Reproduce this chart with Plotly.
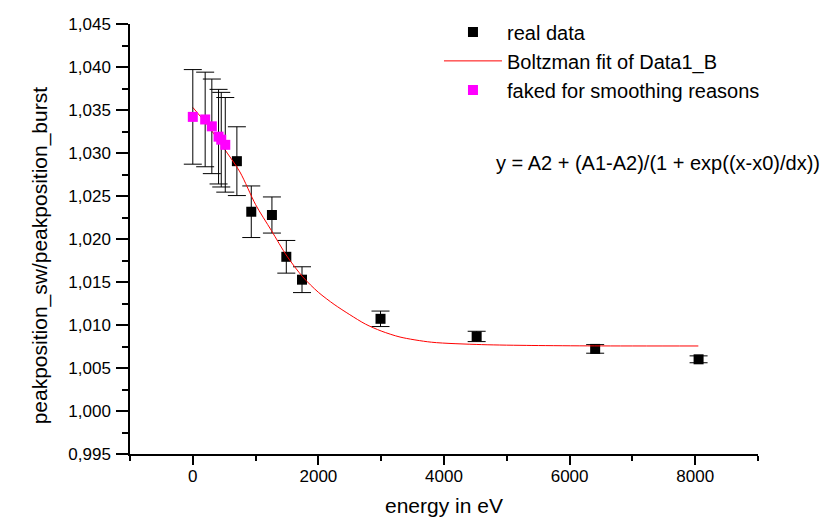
import plotly.graph_objects as go

# ---- data ----
real_energy = [702, 931, 1260, 1489, 1739, 2989, 4520, 6407, 8054]
real_value = [1.02905, 1.02317, 1.02279, 1.01793, 1.01527, 1.01072, 1.00867, 1.00722, 1.00601]
real_error = [0.0040, 0.0030, 0.0021, 0.0019, 0.0015, 0.0009, 0.0006, 0.0005, 0.0004]

fake_energy = [0, 197, 303, 410, 453, 517]
fake_value = [1.0342, 1.0339, 1.0331, 1.0319, 1.03155, 1.03095]
fake_error = [0.0055, 0.0055, 0.0055, 0.0055, 0.0055, 0.0055]

fit_energy = [0, 250, 500, 750, 1000, 1250, 1500, 1750, 2000, 2250, 2500,
              2750, 3000, 3300, 3800, 4600, 5400, 6400, 8050]
fit_value = [1.0353, 1.0331, 1.0305, 1.0278, 1.0240, 1.0210, 1.0180, 1.0156,
             1.0138, 1.0124, 1.0112, 1.0101, 1.0093, 1.00860, 1.00800,
             1.00772, 1.00762, 1.00757, 1.00756]

x_tickvals = [0, 2000, 4000, 6000, 8000]
x_ticktext = ["0", "2000", "4000", "6000", "8000"]
y_tickvals = [0.995, 1.000, 1.005, 1.010, 1.015, 1.020, 1.025, 1.030, 1.035, 1.040, 1.045]
y_ticktext = ["0,995", "1,000", "1,005", "1,010", "1,015", "1,020",
              "1,025", "1,030", "1,035", "1,040", "1,045"]

legend_names = ["real data", "Boltzman fit of Data1_B", "faked for smoothing reasons"]
formula_text = "y = A2 + (A1-A2)/(1 + exp((x-x0)/dx))"
x_title = "energy in eV"
y_title = "peakposition_sw/peakposition_burst"

FONT = "Liberation Sans, Arial, sans-serif"

fig = go.Figure()

fig.add_trace(go.Scatter(
    x=real_energy, y=real_value, mode="markers", name=legend_names[0],
    marker=dict(symbol="square", size=10, color="black"),
    error_y=dict(type="data", array=real_error, visible=True,
                 color="black", thickness=1, width=9),
))
fig.add_trace(go.Scatter(
    x=fit_energy, y=fit_value, mode="lines", name=legend_names[1],
    line=dict(color="#ff0000", width=1, shape="spline", smoothing=0.8),
))
fig.add_trace(go.Scatter(
    x=fake_energy, y=fake_value, mode="markers", name=legend_names[2],
    marker=dict(symbol="square", size=10, color="#ff00ff"),
    error_y=dict(type="data", array=fake_error, visible=True,
                 color="black", thickness=1, width=9),
))

fig.update_layout(
    width=831, height=523,
    margin=dict(l=130, r=73, t=15, b=69),
    paper_bgcolor="white", plot_bgcolor="white",
    font=dict(family=FONT, color="black", size=17),
    showlegend=True,
    legend=dict(x=0.492, y=1.027, xanchor="left", yanchor="top",
                font=dict(size=20, family=FONT), itemwidth=58,
                bgcolor="rgba(0,0,0,0)", borderwidth=0,
                tracegroupgap=0),
    annotations=[
        dict(text=formula_text, xref="paper", yref="paper",
             x=1.1019, y=0.677, xanchor="right", yanchor="middle",
             showarrow=False, font=dict(size=20, family=FONT)),
        dict(text=y_title, xref="paper", yref="paper",
             x=-0.1433, y=0.462, xanchor="center", yanchor="middle",
             textangle=-90, showarrow=False, font=dict(size=21, family=FONT)),
        dict(text=x_title, xref="paper", yref="paper",
             x=0.5, y=-0.12, xanchor="center", yanchor="middle",
             showarrow=False, font=dict(size=21, family=FONT)),
    ],
)

fig.update_xaxes(
    range=[-1000, 9000], showgrid=False, zeroline=False,
    showline=True, linecolor="black", linewidth=1.5,
    tickmode="array", tickvals=x_tickvals, ticktext=x_ticktext,
    ticks="outside", ticklen=9, tickwidth=1.5, tickcolor="black",
    tickfont=dict(size=17, family=FONT), ticklabelstandoff=-3,
    minor=dict(ticks="outside", tick0=-1000, dtick=1000, ticklen=5,
               tickwidth=1.5, tickcolor="black", showgrid=False),
)
fig.update_yaxes(
    range=[0.995, 1.045], showgrid=False, zeroline=False,
    showline=True, linecolor="black", linewidth=1.5,
    tickmode="array", tickvals=y_tickvals, ticktext=y_ticktext,
    ticks="outside", ticklen=12, tickwidth=1.5, tickcolor="black",
    tickfont=dict(size=17, family=FONT), ticklabelstandoff=2,
    minor=dict(ticks="outside", tick0=0.995, dtick=0.0025, ticklen=6,
               tickwidth=1.5, tickcolor="black", showgrid=False),
)

fig.write_html("out.html",
               config={"displayModeBar": False},
               post_script="document.body.style.margin='0px';")
